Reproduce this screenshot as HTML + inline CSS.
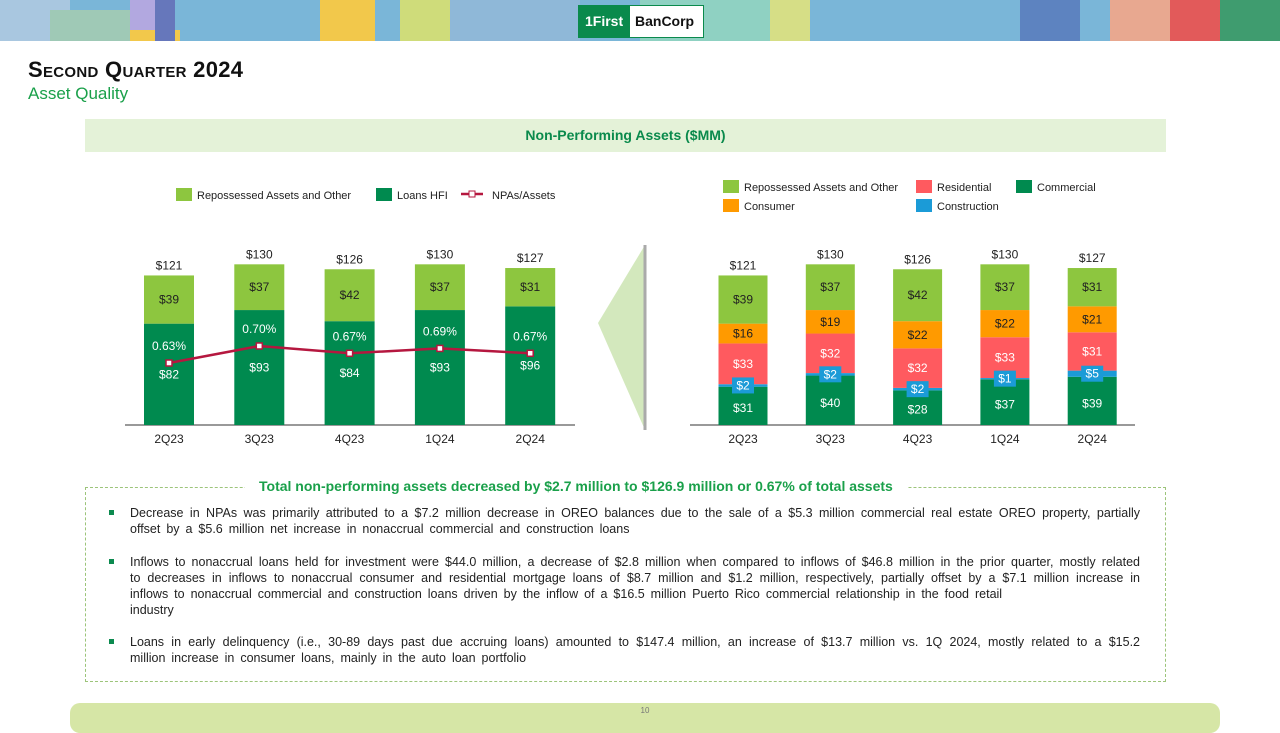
<!DOCTYPE html>
<html><head><meta charset="utf-8"><style>
body{margin:0;width:1280px;height:720px;position:relative;background:#fff;font-family:"Liberation Sans",sans-serif;overflow:hidden}
.abs{position:absolute}
.bul{position:absolute;left:130px;width:1010px;font-size:12.5px;line-height:16px;color:#222;text-align:justify;word-spacing:2.5px}
.bul:before{content:"";position:absolute;left:-21px;top:5px;width:5px;height:5px;background:#0c8a4f}
</style></head><body>
<div class="abs" style="left:0;top:0;width:1280px;height:41px;background:#7ab6d8;overflow:hidden">
 <div class="abs" style="left:0;top:0;width:70px;height:41px;background:#a9c7e0"></div>
 <div class="abs" style="left:50px;top:10px;width:90px;height:31px;background:#9fc9b6"></div>
 <div class="abs" style="left:130px;top:0;width:40px;height:41px;background:#b2a8e0"></div>
 <div class="abs" style="left:130px;top:30px;width:50px;height:11px;background:#f2c84b"></div>
 <div class="abs" style="left:320px;top:0;width:55px;height:41px;background:#f2c84b"></div>
 <div class="abs" style="left:155px;top:0;width:20px;height:41px;background:#6677bb"></div>
 <div class="abs" style="left:400px;top:0;width:50px;height:41px;background:#cfdc7a"></div>
 <div class="abs" style="left:450px;top:0;width:130px;height:41px;background:#8fb8d8"></div>
 <div class="abs" style="left:640px;top:0;width:150px;height:41px;background:#8fd1c2"></div>
 <div class="abs" style="left:770px;top:0;width:40px;height:41px;background:#d6de86"></div>
 <div class="abs" style="left:1020px;top:0;width:60px;height:41px;background:#5d83c0"></div>
 <div class="abs" style="left:1110px;top:0;width:60px;height:41px;background:#e8a890"></div>
 <div class="abs" style="left:1170px;top:0;width:110px;height:41px;background:#e25a5a"></div>
 <div class="abs" style="left:1220px;top:0;width:60px;height:41px;background:#3f9c6f"></div>
</div>
<div class="abs" style="left:578px;top:5px;width:124px;height:31px;background:#0a8a4c;border:1px solid #0a8a4c">
 <span class="abs" style="left:6px;top:7px;color:#fff;font-weight:bold;font-size:14px">1First</span>
 <div class="abs" style="left:51px;top:0;width:73px;height:31px;background:#fff"><span class="abs" style="left:5px;top:7px;font-weight:bold;font-size:14px;color:#111">BanCorp</span></div>
</div>
<div class="abs" style="left:28px;top:57px;font-size:22px;font-weight:bold;color:#111;font-variant:small-caps;letter-spacing:0.3px">Second Quarter 2024</div>
<div class="abs" style="left:28px;top:84px;font-size:17px;color:#1aa04a">Asset Quality</div>
<div class="abs" style="left:85px;top:119px;width:1081px;height:33px;background:#e4f2d8;text-align:center;line-height:33px;font-size:14px;font-weight:bold;color:#0a8a4c">Non-Performing Assets ($MM)</div>
<svg class="abs" style="left:0;top:0" width="1280" height="720" id="charts">
 <polygon points="645,245 645,430 598,323" fill="#d3e8bd"/>
 <line x1="645" y1="245" x2="645" y2="430" stroke="#aaa" stroke-width="3"/>
</svg>
<div class="abs" style="left:85px;top:487px;width:1079px;height:193px;border:1px dashed #9cc47a"></div>
<div class="abs" style="left:245px;top:478px;padding:0 14px;background:#fff;font-size:14px;font-weight:bold;color:#1aa04a">Total non-performing assets decreased by $2.7 million to $126.9 million or 0.67% of total assets</div>
<div class="bul" style="top:505px">Decrease in NPAs was primarily attributed to a $7.2 million decrease in OREO balances due to the sale of a $5.3 million commercial real estate OREO property, partially offset by a $5.6 million net increase in nonaccrual commercial and construction loans</div>
<div class="bul" style="top:554px">Inflows to nonaccrual loans held for investment were $44.0 million, a decrease of $2.8 million when compared to inflows of $46.8 million in the prior quarter, mostly related to decreases in inflows to nonaccrual consumer and residential mortgage loans of $8.7 million and $1.2 million, respectively, partially offset by a $7.1 million increase in inflows to nonaccrual commercial and construction loans driven by the inflow of a $16.5 million Puerto Rico commercial relationship in the food retail<br>industry</div>
<div class="bul" style="top:634px">Loans in early delinquency (i.e., 30-89 days past due accruing loans) amounted to $147.4 million, an increase of $13.7 million vs. 1Q 2024, mostly related to a $15.2 million increase in consumer loans, mainly in the auto loan portfolio</div>
<div class="abs" style="left:70px;top:703px;width:1150px;height:30px;border-radius:10px;background:#d6e6a6;text-align:center;font-size:8px;color:#777;line-height:16px">10</div>
<script>
const categories=["2Q23","3Q23","4Q23","1Q24","2Q24"];
const totals=[121,130,126,130,127];
const repossessed=[39,37,42,37,31];
const loansHFI=[82,93,84,93,96];
const npaRatio=[0.63,0.70,0.67,0.69,0.67];
const commercial=[31,40,28,37,39];
const construction=[2,2,2,1,5];
const residential=[33,32,32,33,31];
const consumer=[16,19,22,22,21];
const NS="http://www.w3.org/2000/svg";
const svg=document.getElementById('charts');
const base=425, k=1.236;
const yv=v=>base-v*k;
const yr=r=>363-(r-0.63)*243;
function el(t,a){const e=document.createElementNS(NS,t);for(const n in a)e.setAttribute(n,a[n]);svg.appendChild(e);return e;}
function txt(x,y,s,c,sz){const e=el('text',{x:x,y:y,'text-anchor':'middle','font-size':sz||12,fill:c||'#222','font-family':'Liberation Sans, sans-serif'});e.textContent=s;return e;}
const lx=i=>169+i*90.3, rx=i=>743+i*87.3;
let a=el('line',{x1:125,y1:base,x2:575,y2:base,stroke:'#333'});

a=el('line',{x1:690,y1:base,x2:1135,y2:base,stroke:'#333'});

categories.forEach((c,i)=>{
 let x=lx(i),w=50;
 let r=el('rect',{x:x-w/2,y:yv(loansHFI[i]),width:w,height:loansHFI[i]*k,fill:'#008a4f'});
 
 r=el('rect',{x:x-w/2,y:yv(loansHFI[i]+repossessed[i]),width:w,height:repossessed[i]*k,fill:'#8dc63f'});
 
 txt(x,yv(loansHFI[i]+repossessed[i]/2)+4,'$'+repossessed[i]);
 txt(x,yv(loansHFI[i]*0.5)+4,'$'+loansHFI[i],'#fff');
 txt(x,yv(totals[i])-6,'$'+totals[i]);
 txt(x,yr(npaRatio[i])-13,npaRatio[i].toFixed(2)+'%','#fff');
 txt(x,443,c);
 x=rx(i);w=49;let acc=0;
 const segs=[[commercial,'#008a4f','commercial','#fff'],[construction,'#1b9bd7','construction','#fff'],[residential,'#ff5a5f','residential','#fff'],[consumer,'#ff9a00','consumer','#222'],[repossessed,'#8dc63f','repossessed','#222']];
 segs.forEach(s=>{const v=s[0][i];
  const rr=el('rect',{x:x-w/2,y:yv(acc+v),width:w,height:v*k,fill:s[1]});
  
  let ty=yv(acc+v/2)+4;
  if(s[2]==='commercial'){ty=yv(v*0.45)+4;}
  if(s[2]!=='construction') txt(x,ty,'$'+v,s[3]);acc+=v;});
 const cm=yv(commercial[i]+construction[i]/2);
 const bx=el('rect',{x:x-11,y:cm-8,width:22,height:16,fill:'#1b9bd7'});
 
 txt(x,cm+4,'$'+construction[i],'#fff');
 txt(x,yv(totals[i])-6,'$'+totals[i]);
 txt(x,443,c);
});
const pts=categories.map((c,i)=>lx(i)+','+yr(npaRatio[i])).join(' ');
const pl=el('polyline',{points:pts,fill:'none',stroke:'#b5173f','stroke-width':2.5});

categories.forEach((c,i)=>{const m=el('rect',{x:lx(i)-3,y:yr(npaRatio[i])-3,width:6,height:6,fill:'#fff',stroke:'#b5173f','stroke-width':1.5});
 });
function leg(x,y,col,label,line){
 if(line){el('line',{x1:x,y1:y+6,x2:x+22,y2:y+6,stroke:'#b5173f','stroke-width':2.5});el('rect',{x:x+8,y:y+3,width:6,height:6,fill:'#fff',stroke:'#b5173f'});x+=10;}
 else el('rect',{x:x,y:y,width:16,height:13,fill:col});
 const t=el('text',{x:x+21,y:y+11,'font-size':11,fill:'#222','font-family':'Liberation Sans, sans-serif'});t.textContent=label;
 }
leg(176,188,'#8dc63f','Repossessed Assets and Other');
leg(376,188,'#008a4f','Loans HFI');
leg(461,188,null,'NPAs/Assets',true);
leg(723,180,'#8dc63f','Repossessed Assets and Other');
leg(916,180,'#ff5a5f','Residential');
leg(1016,180,'#008a4f','Commercial');
leg(723,199,'#ff9a00','Consumer');
leg(916,199,'#1b9bd7','Construction');
</script>
</body></html>
